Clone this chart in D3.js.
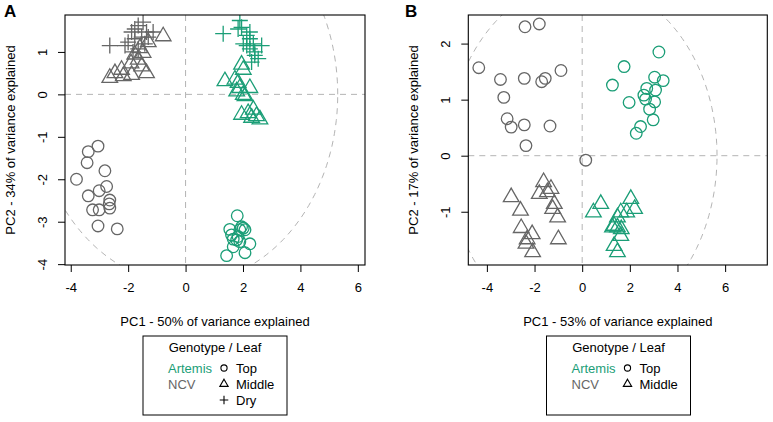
<!DOCTYPE html>
<html>
<head>
<meta charset="utf-8">
<script src="https://cdn.jsdelivr.net/npm/d3@7"></script>
<style>
  body { margin: 0; background: #fff; }
  svg text { font-family: "Liberation Sans", Arial, Helvetica, sans-serif; }
</style>
</head>
<body>
<svg id="chart" width="773" height="422"></svg>
<script>
// ---- data (PC1, PC2 scores) ----
// Panel A
var aArtemisTop = [[1.80,-2.86],[1.95,-3.12],[2.01,-3.15],[1.54,-3.18],[1.89,-3.19],[2.07,-3.19],[1.60,-3.31],[1.66,-3.41],
  [1.78,-3.43],[1.89,-3.47],[2.24,-3.52],[1.66,-3.59],[2.07,-3.73],[1.43,-3.80],[1.83,-3.35]];
var aArtemisMiddle = [[1.95,0.70],[2.01,0.58],[1.37,0.31],[1.72,0.35],[1.83,0.27],[1.89,0.15],[2.24,0.15],[1.78,0.07],
  [2.01,-0.01],[2.07,-0.04],[2.18,-0.44],[1.95,-0.48],[2.36,-0.36],[2.47,-0.51],[2.59,-0.59],[2.30,-0.55]];
var aArtemisDry = [[1.31,1.43],[1.89,1.74],[1.95,1.58],[1.83,1.54],[2.13,1.39],[2.24,1.31],[2.36,1.19],[2.13,1.15],
  [2.65,1.15],[2.24,1.07],[2.41,1.00],[2.01,1.19],[2.53,0.84],[2.30,0.76],[2.41,0.92],[2.24,1.47]];
var aNcvTop = [[-3.05,-1.22],[-3.39,-1.35],[-3.43,-1.61],[-2.81,-1.80],[-3.80,-2.00],[-2.75,-2.17],[-3.01,-2.27],[-3.39,-2.39],
  [-2.64,-2.49],[-2.66,-2.58],[-2.64,-2.68],[-3.24,-2.72],[-3.01,-2.72],[-3.05,-3.10],[-2.38,-3.17]];
var aNcvMiddle = [[-0.78,1.37],[-2.46,0.50],[-2.64,0.39],[-2.17,0.43],[-2.23,0.58],[-1.88,0.46],[-1.53,0.66],[-1.36,0.50],
  [-1.65,0.82],[-1.77,0.94],[-1.48,0.98],[-1.59,1.09],[-1.90,0.73],[-1.30,1.23]];
var aNcvDry = [[-2.64,1.15],[-2.11,1.15],[-1.77,1.54],[-1.48,1.70],[-1.65,1.62],[-1.36,1.47],[-1.30,1.35],[-1.53,1.35],
  [-1.77,1.31],[-2.00,1.23],[-1.42,1.19],[-1.65,1.07],[-1.83,1.00],[-1.13,1.47],[-1.88,1.47]];

// Panel B
var bArtemisTop = [[3.22,1.85],[1.76,1.59],[1.27,1.26],[3.04,1.40],[3.40,1.34],[2.71,1.20],[3.08,1.17],[2.59,1.08],
  [2.66,1.01],[3.04,0.96],[1.97,0.95],[2.83,0.83],[2.98,0.64],[2.45,0.52],[2.27,0.40]];
var bArtemisMiddle = [[0.47,-1.01],[0.78,-0.86],[2.04,-0.77],[2.20,-0.95],[1.87,-1.01],[1.62,-1.01],[1.48,-1.10],[1.34,-1.25],
  [1.48,-1.28],[1.64,-1.31],[1.62,-1.43],[1.34,-1.61],[1.48,-1.72],[1.27,-1.28]];
var bNcvTop = [[-2.40,2.30],[-1.80,2.35],[-4.34,1.57],[-3.43,1.36],[-2.43,1.38],[-1.70,1.32],[-1.55,1.38],[-0.89,1.52],
  [-3.29,1.04],[-3.15,0.66],[-2.98,0.51],[-2.43,0.55],[-1.35,0.53],[-2.36,0.18],[0.15,-0.08]];
var bNcvMiddle = [[-2.98,-0.74],[-2.59,-0.98],[-1.62,-0.47],[-1.31,-0.59],[-1.46,-0.65],[-1.80,-0.68],[-1.17,-0.86],[-1.24,-0.95],
  [-1.03,-1.10],[-2.56,-1.29],[-2.10,-1.40],[-2.31,-1.49],[-2.36,-1.57],[-2.08,-1.72],[-1.00,-1.49]];

// axis extents, ticks and ellipse radii
var aXDomain = [-4.2, 6.25], aYDomain = [-4.02, 1.87];
var bXDomain = [-4.78, 7.77], bYDomain = [-1.95, 2.51];
var aXTicks = [-4, -2, 0, 2, 4, 6], aYTicks = [-4, -3, -2, -1, 0, 1];
var bXTicks = [-4, -2, 0, 2, 4, 6], bYTicks = [-1, 0, 1, 2];
var aEllipse = [5.3, 4.46], bEllipse = [5.66, 3.12];

var genotypes = ['Artemis', 'NCV'];
var colors = { Artemis: '#1b9e77', NCV: '#666666' };

var svg = d3.select('#chart');

// R-style symbols: pch 1 circle, pch 2 triangle, pch 3 plus
function symbolPath(shape, r) {
  if (shape === 'Top') {
    return 'M' + r + ',0A' + r + ',' + r + ' 0 1,1 ' + (-r) + ',0A' + r + ',' + r + ' 0 1,1 ' + r + ',0Z';
  }
  if (shape === 'Middle') {
    var t = 1.5551203 * r, xc = 1.3467737 * r, yc = 0.7775602 * r;
    return 'M0,' + (-t) + 'L' + xc + ',' + yc + 'L' + (-xc) + ',' + yc + 'Z';
  }
  var p = 1.38 * r;
  return 'M' + (-p) + ',0H' + p + 'M0,' + (-p) + 'V' + p;
}

function drawPanel(cfg) {
  var x = d3.scaleLinear().domain(cfg.xDomain).range([cfg.left, cfg.right]);
  var y = d3.scaleLinear().domain(cfg.yDomain).range([265, 15]);
  var g = svg.append('g');

  g.append('clipPath').attr('id', 'clip' + cfg.id)
    .append('rect').attr('x', cfg.left).attr('y', 15)
    .attr('width', cfg.right - cfg.left).attr('height', 250);

  var plot = g.append('g').attr('clip-path', 'url(#clip' + cfg.id + ')');

  // ellipse
  var ell = d3.range(0, 361, 2).map(function (a) {
    var t = a * Math.PI / 180;
    return [cfg.ellipse[0] * Math.cos(t), cfg.ellipse[1] * Math.sin(t)];
  });
  plot.append('path')
    .attr('d', d3.line().x(function (d) { return x(d[0]); }).y(function (d) { return y(d[1]); })(ell))
    .attr('fill', 'none').attr('stroke', '#b4b4b4').attr('stroke-width', 1).attr('stroke-dasharray', '6,5');

  // zero lines
  plot.append('line').attr('x1', x(0)).attr('x2', x(0)).attr('y1', 15).attr('y2', 265)
    .attr('stroke', '#b4b4b4').attr('stroke-dasharray', '6,5');
  plot.append('line').attr('x1', cfg.left).attr('x2', cfg.right).attr('y1', y(0)).attr('y2', y(0))
    .attr('stroke', '#b4b4b4').attr('stroke-dasharray', '6,5');

  // points
  cfg.groups.forEach(function (grp) {
    plot.append('g').selectAll('path')
      .data(grp.data)
      .enter().append('path')
      .attr('transform', function (d) { return 'translate(' + x(d[0]) + ',' + y(d[1]) + ')'; })
      .attr('d', symbolPath(grp.leaf, 5.8))
      .attr('fill', 'none')
      .attr('stroke', colors[grp.genotype])
      .attr('stroke-width', 1.3);
  });

  // box
  g.append('rect').attr('x', cfg.left).attr('y', 15)
    .attr('width', cfg.right - cfg.left).attr('height', 250)
    .attr('fill', 'none').attr('stroke', '#000').attr('stroke-width', 1.1);

  // axes
  var xAxis = g.append('g').attr('transform', 'translate(0,265)')
    .call(d3.axisBottom(x).tickValues(cfg.xTicks).tickSize(7).tickPadding(11).tickFormat(d3.format('d')));
  xAxis.select('.domain').remove();
  xAxis.selectAll('text').attr('font-size', 13).attr('fill', '#000')
    .text(function (d) { return d < 0 ? '-' + Math.abs(d) : d; });

  var yAxis = g.append('g').attr('transform', 'translate(' + cfg.left + ',0)')
    .call(d3.axisLeft(y).tickValues(cfg.yTicks).tickSize(7).tickFormat(d3.format('d')));
  yAxis.select('.domain').remove();
  yAxis.selectAll('.tick text')
    .attr('font-size', 13).attr('fill', '#000')
    .attr('x', null).attr('dy', null)
    .attr('text-anchor', 'middle')
    .attr('transform', 'translate(-18,0) rotate(-90)')
    .attr('y', 0)
    .text(function (d) { return d < 0 ? '-' + Math.abs(d) : d; });

  // titles
  var mid = (cfg.left + cfg.right) / 2;
  g.append('text').attr('x', mid).attr('y', 325.5).attr('text-anchor', 'middle')
    .attr('font-size', 13).text(cfg.xTitle);
  g.append('text').attr('transform', 'translate(' + (cfg.left - 50) + ',140) rotate(-90)')
    .attr('text-anchor', 'middle').attr('font-size', 13).text(cfg.yTitle);
  g.append('text').attr('x', cfg.labelX).attr('y', 17).attr('font-size', 17)
    .attr('font-weight', 'bold').text(cfg.id);

  // legend
  var lg = g.append('g').attr('transform', 'translate(' + cfg.legendX + ',336)');
  lg.append('rect').attr('width', 144).attr('height', 79)
    .attr('fill', 'none').attr('stroke', '#000').attr('stroke-width', 1);
  lg.append('text').attr('x', 72).attr('y', 15.5).attr('text-anchor', 'middle')
    .attr('font-size', 13).text('Genotype / Leaf');
  genotypes.forEach(function (gt, i) {
    lg.append('text').attr('x', 25).attr('y', 36.5 + i * 16).attr('font-size', 13)
      .attr('fill', colors[gt]).text(gt);
  });
  cfg.leaves.forEach(function (lf, i) {
    lg.append('path').attr('transform', 'translate(81,' + (32 + i * 16) + ')')
      .attr('d', symbolPath(lf, 3.1)).attr('fill', 'none').attr('stroke', '#000').attr('stroke-width', 1.1);
    lg.append('text').attr('x', 93).attr('y', 36.5 + i * 16).attr('font-size', 13).text(lf);
  });
}

drawPanel({
  id: 'A', left: 65, right: 365, labelX: 4,
  xDomain: aXDomain, yDomain: aYDomain, xTicks: aXTicks, yTicks: aYTicks, ellipse: aEllipse,
  xTitle: 'PC1 - 50% of variance explained', yTitle: 'PC2 - 34% of variance explained',
  legendX: 143, leaves: ['Top', 'Middle', 'Dry'],
  groups: [
    { genotype: 'NCV', leaf: 'Top', data: aNcvTop },
    { genotype: 'NCV', leaf: 'Middle', data: aNcvMiddle },
    { genotype: 'NCV', leaf: 'Dry', data: aNcvDry },
    { genotype: 'Artemis', leaf: 'Top', data: aArtemisTop },
    { genotype: 'Artemis', leaf: 'Middle', data: aArtemisMiddle },
    { genotype: 'Artemis', leaf: 'Dry', data: aArtemisDry }
  ]
});

drawPanel({
  id: 'B', left: 468.3, right: 767.3, labelX: 405,
  xDomain: bXDomain, yDomain: bYDomain, xTicks: bXTicks, yTicks: bYTicks, ellipse: bEllipse,
  xTitle: 'PC1 - 53% of variance explained', yTitle: 'PC2 - 17% of variance explained',
  legendX: 546.5, leaves: ['Top', 'Middle'],
  groups: [
    { genotype: 'NCV', leaf: 'Top', data: bNcvTop },
    { genotype: 'NCV', leaf: 'Middle', data: bNcvMiddle },
    { genotype: 'Artemis', leaf: 'Top', data: bArtemisTop },
    { genotype: 'Artemis', leaf: 'Middle', data: bArtemisMiddle }
  ]
});
</script>
</body>
</html>
